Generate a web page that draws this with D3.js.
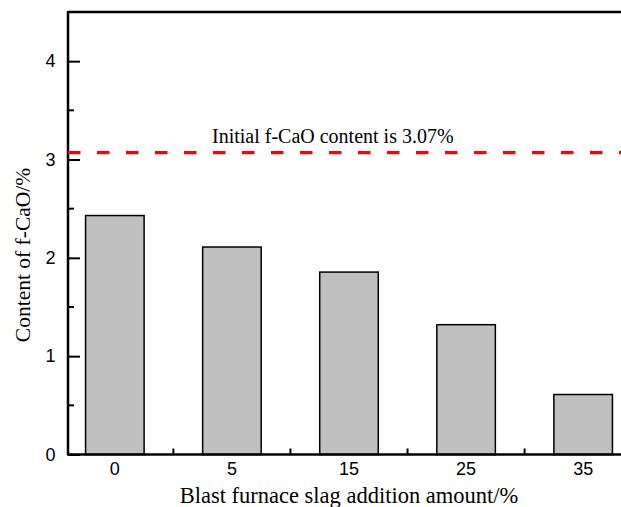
<!DOCTYPE html>
<html lang="en">
<head>
    <meta charset="UTF-8">
    <title>f-CaO content</title>
    <style>
      body { margin: 0; background: #fff; }
      svg { display: block; }
    </style>
</head>
<body>
    <svg></svg>
    <script src="https://d3js.org/d3.v7.min.js"></script>
    <script>
    // slag addition amounts (%) and remaining f-CaO content (%)
    const categories = ['0', '5', '15', '25', '35'];
    const values = [2.43, 2.11, 1.855, 1.32, 0.61];
    const initialValue = 3.07;
    const yTicks = [0, 1, 2, 3, 4];
    const yMinorTicks = [0.5, 1.5, 2.5, 3.5];

    const W = 621, H = 507;
    const mLeft = 68, mTop = 12, mBottom = 454.5, mRight = 630;

    const svg = d3.select('svg')
      .attr('width', W)
      .attr('height', H);

    const x = d3.scaleBand()
      .domain(categories)
      .range([mLeft, mRight])
      .paddingInner(0.5)
      .paddingOuter(0.15);

    const y = d3.scaleLinear()
      .domain([0, 4.5])
      .range([mBottom, mTop]);

    // bars
    svg.selectAll('.bar')
      .data(values)
      .enter()
      .append('rect')
      .attr('class', 'bar')
      .attr('x', (d, i) => x(categories[i]))
      .attr('y', d => y(d))
      .attr('width', x.bandwidth())
      .attr('height', d => y(0) - y(d))
      .attr('fill', '#c0c0c0')
      .attr('stroke', '#000')
      .attr('stroke-width', 1.5);

    // left axis, ticks pointing inward
    const yAxis = svg.append('g')
      .attr('transform', `translate(${mLeft},0)`)
      .call(d3.axisLeft(y).tickValues(yTicks).tickSize(-12).tickFormat(d3.format('d')));
    yAxis.select('.domain').remove();
    yAxis.selectAll('.tick line').attr('stroke-width', 2);
    yAxis.selectAll('.tick text')
      .attr('x', -12.5)
      .attr('text-anchor', 'end')
      .attr('font-family', 'Liberation Sans, Arial, sans-serif')
      .attr('font-size', 18)
      .attr('fill', '#000');

    svg.append('g')
      .selectAll('line')
      .data(yMinorTicks)
      .enter()
      .append('line')
      .attr('x1', mLeft).attr('x2', mLeft + 6)
      .attr('y1', d => y(d)).attr('y2', d => y(d))
      .attr('stroke', '#000')
      .attr('stroke-width', 2);

    // bottom axis
    const xAxis = svg.append('g')
      .attr('transform', `translate(0,${mBottom})`)
      .call(d3.axisBottom(x).tickSize(0).tickPadding(8));
    xAxis.select('.domain').remove();
    xAxis.selectAll('.tick text')
      .attr('font-family', 'Liberation Sans, Arial, sans-serif')
      .attr('font-size', 18)
      .attr('fill', '#000');

    // minor ticks between bars on x axis
    const mids = categories.slice(1).map((c, i) =>
      (x(categories[i]) + x.bandwidth() + x(c)) / 2);
    svg.append('g')
      .selectAll('line')
      .data(mids)
      .enter()
      .append('line')
      .attr('x1', d => d).attr('x2', d => d)
      .attr('y1', mBottom).attr('y2', mBottom - 6)
      .attr('stroke', '#000')
      .attr('stroke-width', 2);

    // frame lines
    svg.append('line')
      .attr('x1', mLeft).attr('x2', W + 10)
      .attr('y1', mBottom).attr('y2', mBottom)
      .attr('stroke', '#000').attr('stroke-width', 2.5);
    svg.append('line')
      .attr('x1', mLeft).attr('x2', W + 10)
      .attr('y1', mTop).attr('y2', mTop)
      .attr('stroke', '#000').attr('stroke-width', 2.5);
    svg.append('line')
      .attr('x1', mLeft).attr('x2', mLeft)
      .attr('y1', mTop - 1).attr('y2', mBottom + 1)
      .attr('stroke', '#000').attr('stroke-width', 2.5);

    // initial content reference line
    svg.append('line')
      .attr('x1', mLeft).attr('x2', W + 10)
      .attr('y1', y(initialValue)).attr('y2', y(initialValue))
      .attr('stroke', '#ff0000')
      .attr('stroke-width', 3.2)
      .attr('stroke-dasharray', '12.5,16.5');

    svg.append('text')
      .attr('x', 212)
      .attr('y', y(initialValue) - 9.5)
      .attr('font-family', 'Liberation Serif, Times New Roman, serif')
      .attr('font-size', 20)
      .attr('fill', '#000')
      .text('Initial f-CaO content is 3.07%');

    // axis titles
    svg.append('text')
      .attr('x', 349)
      .attr('y', 503)
      .attr('text-anchor', 'middle')
      .attr('font-family', 'Liberation Serif, Times New Roman, serif')
      .attr('font-size', 22.5)
      .attr('fill', '#000')
      .text('Blast furnace slag addition amount/%');

    svg.append('text')
      .attr('transform', 'translate(30,255) rotate(-90)')
      .attr('text-anchor', 'middle')
      .attr('font-family', 'Liberation Serif, Times New Roman, serif')
      .attr('font-size', 21.5)
      .attr('fill', '#000')
      .text('Content of f-CaO/%');
    </script>
</body>
</html>
